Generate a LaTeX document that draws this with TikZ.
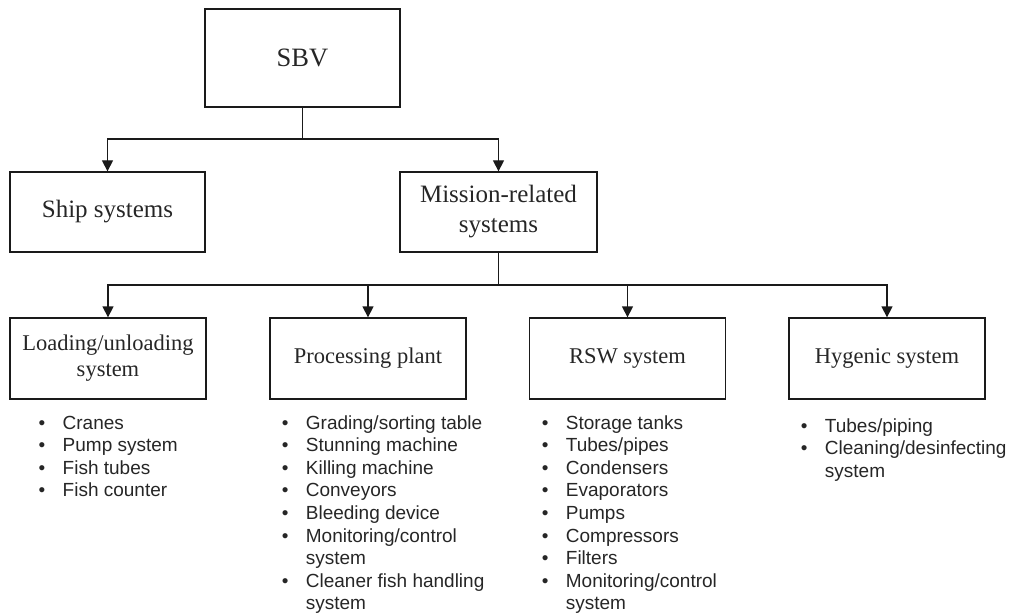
\documentclass[tikz,border=0pt]{standalone}
\usepackage{fontspec}
\setmainfont{Liberation Serif}
\newfontfamily\listfont{Liberation Sans}
\usetikzlibrary{arrows.meta}

% bullet item and its continuation line
\newcommand\bitem[1]{\hbox{\makebox[24pt][l]{\textbullet}#1}}
\newcommand\bcont[1]{\hbox{\hspace{24pt}#1}}

\definecolor{ink}{HTML}{1A1A1A}
\definecolor{txt}{HTML}{262626}

\tikzset{
  boxnode/.style={draw=ink, line width=1.3pt, inner sep=0pt, align=center, text=txt},
  toplevel/.style={boxnode, minimum width=195pt, minimum height=98pt, font=\fontsize{26.5}{31}\selectfont},
  midlevel/.style={boxnode, minimum height=80pt, font=\fontsize{25}{30}\selectfont},
  sublevel/.style={boxnode, minimum width=196pt, minimum height=81pt, font=\fontsize{22.5}{26}\selectfont},
  itemlist/.style={inner sep=0pt, anchor=base west, text=txt, font=\listfont\fontsize{19}{22.6}\selectfont},
  link/.style={draw=ink, line width=1.3pt},
  arrowlink/.style={link, -{Triangle[length=11pt,width=11pt]}}
}

\begin{document}
\begin{tikzpicture}[x=1pt, y=-1pt]
\useasboundingbox (0,0) rectangle (1013,615);

% hierarchy boxes
\node[toplevel] (sbv) at (302.5,58) {SBV};
\node[midlevel, minimum width=195pt] (ship) at (107.5,212) {Ship systems};
\node[midlevel, minimum width=197pt] (mission) at (498.5,212) {Mission-related\\systems};

\node[sublevel] (load) at (108,358.5) {Loading/unloading\\system};
\node[sublevel] (proc) at (368,358.5) {Processing plant};
\node[sublevel] (rsw) at (627.5,358.5) {RSW system};
\node[sublevel] (hyg) at (887,358.5) {Hygenic system};

% connectors
\coordinate (j1) at (302.5,139);
\coordinate (j2) at (498.5,285);
\draw[link] (sbv.south) -- (j1);
\draw[arrowlink] (j1) -| (ship.north);
\draw[arrowlink] (j1) -| (mission.north);
\draw[link] (mission.south) -- (j2);
\draw[arrowlink] (j2) -| (load.north);
\draw[arrowlink] (j2) -| (proc.north);
\draw[arrowlink] (j2) -| (rsw.north);
\draw[arrowlink] (j2) -| (hyg.north);

% component lists
\node[itemlist] (loadlist) at (38.5,429) {\vtop{%
  \bitem{Cranes}\bitem{Pump system}\bitem{Fish tubes}\bitem{Fish counter}}};
\node[itemlist] (proclist) at (281.7,429) {\vtop{%
  \bitem{Grading/sorting table}\bitem{Stunning machine}\bitem{Killing machine}%
  \bitem{Conveyors}\bitem{Bleeding device}\bitem{Monitoring/control}\bcont{system}%
  \bitem{Cleaner fish handling}\bcont{system}}};
\node[itemlist] (rswlist) at (541.7,429) {\vtop{%
  \bitem{Storage tanks}\bitem{Tubes/pipes}\bitem{Condensers}\bitem{Evaporators}%
  \bitem{Pumps}\bitem{Compressors}\bitem{Filters}\bitem{Monitoring/control}\bcont{system}}};
\node[itemlist] (hyglist) at (800.7,432) {\vtop{%
  \bitem{Tubes/piping}\bitem{Cleaning/desinfecting}\bcont{system}}};
\end{tikzpicture}
\end{document}
